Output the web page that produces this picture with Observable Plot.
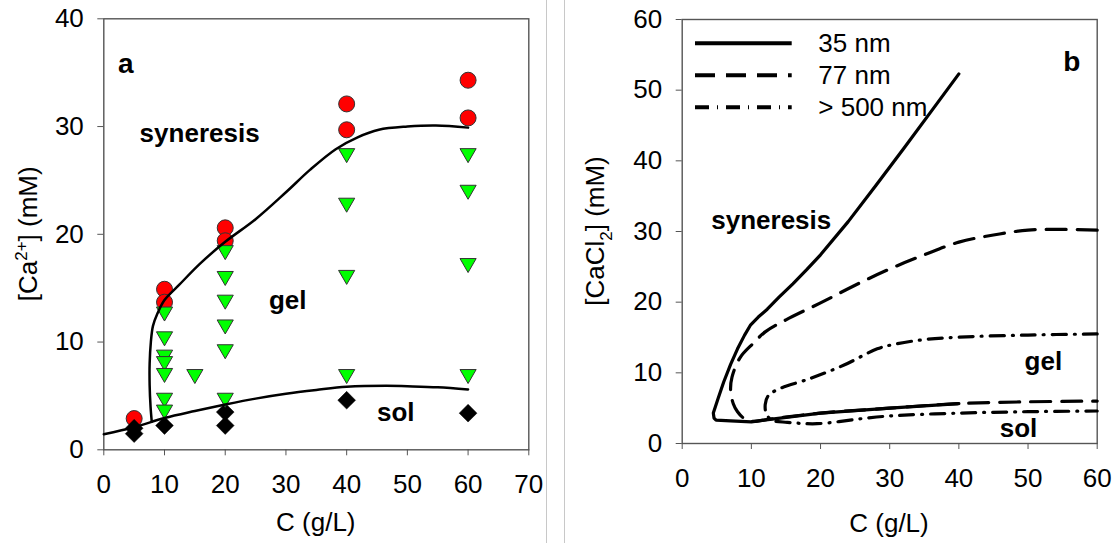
<!DOCTYPE html>
<html><head><meta charset="utf-8">
<script src="https://cdn.jsdelivr.net/npm/d3@7"></script>
<script src="https://cdn.jsdelivr.net/npm/@observablehq/plot@0.6"></script>
<style>
body{margin:0;background:#fff;}
#wrap{position:relative;width:1116px;height:543px;overflow:hidden;font-family:"Liberation Sans",Arial,sans-serif;background:#fff;}
.panel{position:absolute;top:0;}
.sep{position:absolute;top:0;width:1px;height:543px;background:#c8c8c8;}
</style></head><body><div id="wrap"></div>
<script>
// ---------- Panel a data ----------
const xTicksA = [0, 10, 20, 30, 40, 50, 60, 70];
const yTicksA = [0, 10, 20, 30, 40];
const synX = [5, 10, 10, 20, 20, 40, 40, 60, 60];
const synY = [2.9, 14.9, 13.7, 20.6, 19.4, 32.1, 29.7, 34.3, 30.8];
const gelX = [10, 10, 10, 10, 10, 10, 10, 15, 20, 20, 20, 20, 20, 20, 40, 40, 40, 40, 60, 60, 60, 60];
const gelY = [12.6, 10.3, 8.6, 8.0, 6.9, 4.6, 3.5, 6.8, 18.3, 15.9, 13.7, 11.4, 9.1, 4.6, 27.3, 22.7, 16.0, 6.8, 27.3, 23.9, 17.1, 6.8];
const solX = [5, 5, 10, 20, 20, 40, 60];
const solY = [1.5, 2.0, 2.25, 3.5, 2.25, 4.6, 3.4];
const upperAX = [7.9, 7.7, 7.55, 7.55, 7.75, 8.1, 8.8, 10, 12.4, 15.9, 20, 25, 30, 34, 38.2, 41.8, 45.3, 50, 54.7, 60];
const upperAY = [2.6, 4, 6, 8, 10, 11.5, 12.6, 13.9, 15.3, 17.3, 19.3, 21.4, 23.9, 26.0, 27.9, 29.0, 29.7, 30.0, 30.1, 29.9];
const lowerAX = [0, 5, 10, 15, 20, 25, 30, 35, 40, 46.5, 50, 55, 60];
const lowerAY = [1.45, 2.1, 2.95, 3.6, 4.2, 4.75, 5.2, 5.55, 5.85, 5.95, 5.9, 5.8, 5.6];
const labelsA = ["a", "syneresis", "gel", "sol"];
const labelsAX = [2.35, 5.9, 27.2, 45.0];
const labelsAY = [35.8, 29.3, 13.8, 3.4];

// ---------- Panel b data ----------
const xTicksB = [0, 10, 20, 30, 40, 50, 60];
const yTicksB = [0, 10, 20, 30, 40, 50, 60];
const seriesNames = ["35 nm", "77 nm", "> 500 nm"];
const x35 = [40, 36, 32, 28, 24, 20, 18, 16, 14, 12.3, 11, 9.9, 9.0, 8.0, 7.0, 6.0, 5.2, 4.5, 4.6, 4.9, 7, 10, 13, 20, 30, 40];
const y35 = [52.3, 47.0, 41.7, 36.5, 31.4, 26.7, 24.6, 22.6, 20.7, 19.0, 17.9, 16.8, 15.3, 13.4, 11.2, 8.7, 6.4, 4.3, 3.6, 3.3, 3.2, 3.05, 3.45, 4.3, 5.0, 5.65];
const x77 = [60, 55, 50, 45, 40, 35, 30, 25, 20, 15, 12, 10.3, 8.4, 7.2, 7.0, 7.4, 8.0, 9.0, 10, 13, 20, 30, 40, 50, 60];
const y77 = [30.2, 30.3, 30.2, 29.5, 28.5, 26.7, 24.7, 22.4, 19.9, 17.5, 15.8, 14.2, 12.2, 9.4, 7.5, 5.6, 4.5, 3.5, 3.15, 3.5, 4.3, 5.0, 5.65, 5.9, 6.0];
const x500 = [60, 50, 40, 35, 31, 28.2, 23.4, 18.5, 13.7, 12.4, 12.0, 12.2, 13, 15.2, 19.5, 25.8, 30, 40, 50, 60];
const y500 = [15.5, 15.35, 15.05, 14.7, 14.1, 13.4, 11.1, 9.2, 7.6, 6.7, 5.5, 4.1, 3.3, 3.0, 2.8, 3.5, 3.9, 4.3, 4.5, 4.6];
const labelsB = ["b", "syneresis", "gel", "sol"];
const labelsBX = [55.1, 4.2, 49.5, 45.9];
const labelsBY = [54.0, 31.6, 11.6, 2.1];

// ---------- helpers ----------
const FONT = "'Liberation Sans', Arial, sans-serif";
const zip = (xs, ys, extra = {}) => xs.map((x, i) => ({x, y: ys[i], ...extra}));
const triangleDown = {
  draw(ctx, size) {
    const h = Math.sqrt(size / (3 * Math.sqrt(3)));
    ctx.moveTo(0, 1.5 * h);
    ctx.lineTo(-Math.sqrt(3) * h, -1.5 * h);
    ctx.lineTo(Math.sqrt(3) * h, -1.5 * h);
    ctx.closePath();
  }
};
const wrap = document.getElementById("wrap");

function enlargeTicks(svg) {
  svg.querySelectorAll("text").forEach((t) => {
    if (/^\s*\d+\s*$/.test(t.textContent)) {
      t.setAttribute("font-size", "26");
      t.style.setProperty("font-size", "26px", "important");
      t.style.setProperty("font-family", FONT);
      let p = t.parentNode;
      if (p && p.tagName && p.tagName.toLowerCase() === "g") {
        p.setAttribute("font-size", "26");
        p.style.setProperty("font-size", "26px", "important");
      }
    }
  });
}

function addLabels(svg, xl, yl, ylParts) {
  enlargeTicks(svg);
  const s = d3.select(svg);
  s.append("text").attr("x", xl[0]).attr("y", xl[1]).attr("text-anchor", "middle")
    .attr("font-size", 26).attr("font-family", FONT).attr("fill", "#000").text("C (g/L)");
  const t = s.append("text").attr("transform", `translate(${yl[0]},${yl[1]}) rotate(-90)`)
    .attr("text-anchor", "middle").attr("font-size", 26).attr("font-family", FONT).attr("fill", "#000");
  t.append("tspan").text(ylParts[0]);
  t.append("tspan").attr("font-size", 17).attr("dy", ylParts[2]).text(ylParts[1]);
  t.append("tspan").attr("dy", -ylParts[2]).text(ylParts[3]);
}

// ---------- Panel a ----------
const svgA = Plot.plot({
  width: 546, height: 543,
  marginLeft: 103.3, marginRight: 17.7, marginTop: 18.3, marginBottom: 93.7,
  style: {fontFamily: FONT, fontSize: "26px", color: "#000", background: "transparent"},
  x: {domain: [0, 70]},
  y: {domain: [0, 40]},
  marks: [
    Plot.frame({stroke: "#555", strokeWidth: 1.4}),
    Plot.axisX({ticks: xTicksA, tickSize: 6, tickPadding: 19, label: null, stroke: "#555", fill: "#000", fontSize: 26}),
    Plot.axisY({ticks: yTicksA, tickSize: 6, tickPadding: 14, label: null, stroke: "#555", fill: "#000", fontSize: 26}),
    Plot.dot(zip(synX, synY), {x: "x", y: "y", r: 8, fill: "#ff0000", stroke: "#333", strokeWidth: 1}),
    Plot.dot(zip(solX, solY), {x: "x", y: "y", symbol: "diamond2", r: 8, fill: "#000", stroke: "#000", strokeWidth: 0.5}),
    Plot.dot(zip(gelX, gelY), {x: "x", y: "y", symbol: triangleDown, r: 6, fill: "#00ff00", stroke: "#333", strokeWidth: 1}),
    Plot.line(zip(upperAX, upperAY), {x: "x", y: "y", curve: "catmull-rom", stroke: "#000", strokeWidth: 2.5}),
    Plot.line(zip(lowerAX, lowerAY), {x: "x", y: "y", curve: "catmull-rom", stroke: "#000", strokeWidth: 2.5}),
    Plot.text(labelsA.map((t, i) => ({t, x: labelsAX[i], y: labelsAY[i]})), {
      x: "x", y: "y", text: "t", textAnchor: "start", lineAnchor: "middle",
      fontWeight: "bold", fontSize: (d) => d.t.length === 1 ? 28 : 26, fill: "#000"
    })
  ]
});
svgA.classList.add("panel");
svgA.style.left = "0px";
addLabels(svgA, [315.8, 531], [37, 233.8], ["[Ca", "2+", -10, "] (mM)"]);
wrap.appendChild(svgA);

// separators
for (const left of [546, 564]) {
  const d = document.createElement("div");
  d.className = "sep"; d.style.left = left + "px";
  wrap.appendChild(d);
}

// ---------- Panel b ----------
const svgB = Plot.plot({
  width: 551, height: 543,
  marginLeft: 116.7, marginRight: 19.3, marginTop: 19, marginBottom: 100,
  style: {fontFamily: FONT, fontSize: "26px", color: "#000", background: "transparent"},
  x: {domain: [0, 60]},
  y: {domain: [0, 60]},
  marks: [
    Plot.frame({stroke: "#555", strokeWidth: 1.4}),
    Plot.axisX({ticks: xTicksB, tickSize: 6, tickPadding: 19, label: null, stroke: "#555", fill: "#000", fontSize: 26}),
    Plot.axisY({ticks: yTicksB, tickSize: 6, tickPadding: 14, label: null, stroke: "#555", fill: "#000", fontSize: 26}),
    Plot.line(zip(x500, y500), {x: "x", y: "y", curve: "catmull-rom", stroke: "#000", strokeWidth: 3.2, strokeDasharray: "14,8,1,8"}),
    Plot.line(zip(x77, y77), {x: "x", y: "y", curve: "catmull-rom", stroke: "#000", strokeWidth: 3.2, strokeDasharray: "20,11"}),
    Plot.line(zip(x35, y35), {x: "x", y: "y", curve: "linear", stroke: "#000", strokeWidth: 3.2, strokeLinejoin: "round"}),
    Plot.text(labelsB.map((t, i) => ({t, x: labelsBX[i], y: labelsBY[i]})), {
      x: "x", y: "y", text: "t", textAnchor: "start", lineAnchor: "middle",
      fontWeight: "bold", fontSize: (d) => d.t.length === 1 ? 28 : 26, fill: "#000"
    })
  ]
});
svgB.classList.add("panel");
svgB.style.left = "565px";
addLabels(svgB, [324, 532], [39, 231], ["[CaCl", "2", 8, "] (mM)"]);
wrap.appendChild(svgB);

// ---------- Legend for panel b (overlay) ----------
const dashes = [null, "20,11", "14,8,1,8"];
const leg = d3.select(wrap).append("svg").attr("width", 300).attr("height", 110)
  .style("position", "absolute").style("left", "680px").style("top", "20px");
seriesNames.forEach((name, i) => {
  const yy = 23.3 + i * 32;
  const ln = leg.append("line").attr("x1", 15).attr("x2", 111.7).attr("y1", yy).attr("y2", yy)
    .attr("stroke", "#000").attr("stroke-width", 4);
  if (dashes[i]) ln.attr("stroke-dasharray", dashes[i]);
  leg.append("text").attr("x", 138.3).attr("y", yy + 9).attr("font-size", 26)
    .attr("font-family", FONT).attr("fill", "#000").text(name);
});
</script>
</body></html>
